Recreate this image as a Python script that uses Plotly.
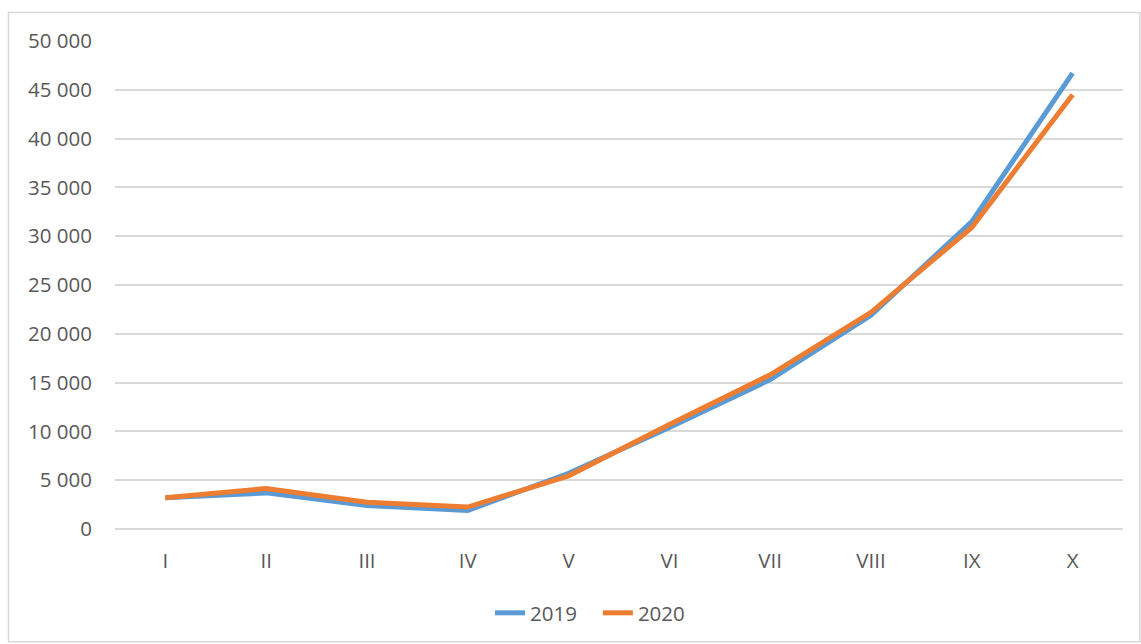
import plotly.graph_objects as go

months = ["I", "II", "III", "IV", "V", "VI", "VII", "VIII", "IX", "X"]
y2019 = [3200, 3700, 2400, 1900, 5700, 10400, 15300, 21900, 31500, 46700]
y2020 = [3200, 4150, 2750, 2250, 5450, 10700, 15800, 22200, 30900, 44500]

W, H = 1141, 644
L, R, T, B = 115, 1123, 41, 530

def px_x(p):
    return (p - L) / (R - L)

def px_y(p):
    return (B - p) / (B - T)

fig = go.Figure()
fig.add_trace(go.Scatter(x=months, y=y2019, name="2019   ", mode="lines",
                         line=dict(color="#5B9BD5", width=5)))
fig.add_trace(go.Scatter(x=months, y=y2020, name="2020", mode="lines",
                         line=dict(color="#ED7D31", width=5)))

font_family = "Open Sans"
fs = 20.5
fig.update_layout(
    width=W, height=H,
    margin=dict(l=L, r=W - R, t=T, b=H - B),
    paper_bgcolor="white", plot_bgcolor="white",
    separators=", ",
    font=dict(family=font_family, size=fs, color="#595959"),
    showlegend=True,
    legend=dict(orientation="h", x=px_x(590), xanchor="center",
                y=px_y(613), yanchor="middle",
                font=dict(size=fs, color="#595959"),
                itemwidth=30, traceorder="normal"),
    xaxis=dict(range=[-0.5, 9.5], showgrid=False, showline=False, zeroline=False,
               ticks="", ticklabelstandoff=17,
               tickfont=dict(size=fs, color="#595959")),
    yaxis=dict(range=[0, 50000], dtick=5000, tickformat=",d",
               showgrid=True, gridcolor="#d9d9d9", gridwidth=1.5,
               zeroline=True, zerolinecolor="#d9d9d9", zerolinewidth=1.5,
               showline=False, ticks="", ticklabelstandoff=22,
               tickfont=dict(size=fs, color="#595959")),
    shapes=[dict(type="rect", xref="paper", yref="paper",
                 x0=px_x(8.5), x1=px_x(1140), y0=px_y(643), y1=px_y(12.5),
                 line=dict(color="#d9d9d9", width=1.5), fillcolor="rgba(0,0,0,0)",
                 layer="below")],
)

fig.write_html("out.html")
